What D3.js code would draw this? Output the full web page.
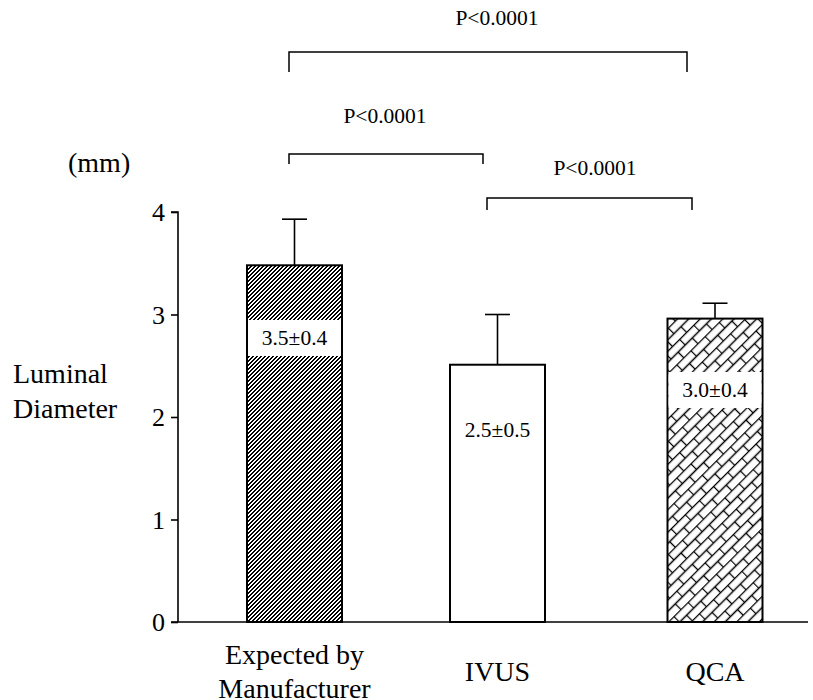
<!DOCTYPE html>
<html>
<head>
<meta charset="utf-8">
<script src="https://cdn.jsdelivr.net/npm/d3@7"></script>
<style>
  body { margin: 0; background: #fff; }
  svg { display: block; }
</style>
</head>
<body>
<svg id="chart" width="813" height="700"></svg>
<script>
// data
var categories = ["Expected by Manufacturer", "IVUS", "QCA"];
var means = [3.48, 2.51, 2.96];
var errTops = [3.93, 3.0, 3.11];
var valueLabels = ["3.5\u00b10.4", "2.5\u00b10.5", "3.0\u00b10.4"];
var yTicks = [0, 1, 2, 3, 4];
// comparisons: [from index, to index, label]
var comparisons = [
  [0, 2, "P<0.0001"],
  [0, 1, "P<0.0001"],
  [1, 2, "P<0.0001"]
];

var FONT = "'Times New Roman', 'Liberation Serif', 'DejaVu Serif', serif";
var svg = d3.select("#chart").style("font-family", FONT);

var y = d3.scaleLinear().domain([0, 4]).range([622, 212]);
var x = d3.scaleOrdinal().domain(categories).range([294.5, 497.5, 715]);
var barW = 95;

// patterns
var defs = svg.append("defs");
// dense "/" stripes, drawn pixel by pixel so they stay crisp
var stripe = defs.append("pattern")
  .attr("id", "stripe")
  .attr("patternUnits", "userSpaceOnUse")
  .attr("width", 4).attr("height", 4);
stripe.append("rect").attr("width", 4).attr("height", 4).attr("fill", "#fff");
for (var py = 0; py < 4; py++){
  for (var px = 0; px < 4; px++){
    if ((px + py) % 4 < 2) {
      stripe.append("rect").attr("x", px).attr("y", py)
        .attr("width", 1).attr("height", 1).attr("fill", "#000")
        .attr("shape-rendering", "crispEdges");
    }
  }
}

var brick = defs.append("pattern")
  .attr("id", "brick")
  .attr("patternUnits", "userSpaceOnUse")
  .attr("width", 20).attr("height", 16)
  .attr("patternTransform", "rotate(-45)");
brick.append("rect").attr("width", 20).attr("height", 16).attr("fill", "#fff");
brick.append("path")
  .attr("d", "M0,0.5H20M0,8.5H20M0.5,0.5V8.5M10.5,8.5V16.5")
  .attr("stroke", "#000").attr("stroke-width", 1.3).attr("fill", "none");

var fills = ["url(#stripe)", "#fff", "url(#brick)"];

// axes
var axisG = svg.append("g").attr("transform", "translate(178,0)");
axisG.call(d3.axisLeft(y).tickValues(yTicks).tickSize(7).tickPadding(6).tickFormat(d3.format("d")));
axisG.attr("font-family", null);
axisG.select(".domain").attr("d", "M-7," + y(4) + "H0V" + y(0)).attr("stroke", "#000").attr("stroke-width", 1.6);
axisG.selectAll(".tick line").attr("stroke", "#000").attr("stroke-width", 1.6);
axisG.selectAll(".tick text")
  .style("font-family", FONT)
  .attr("font-size", 26).attr("fill", "#000").attr("dy", "0.34em");
// baseline
svg.append("line")
  .attr("x1", 171).attr("x2", 808)
  .attr("y1", y(0)).attr("y2", y(0))
  .attr("stroke", "#000").attr("stroke-width", 1.6);

// error bars (behind bars)
var errG = svg.append("g");
categories.forEach(function(c, i){
  var cx = x(c);
  errG.append("line").attr("x1", cx).attr("x2", cx)
    .attr("y1", y(means[i])).attr("y2", y(errTops[i]))
    .attr("stroke", "#000").attr("stroke-width", 1.6);
  errG.append("line").attr("x1", cx - 12.5).attr("x2", cx + 12.5)
    .attr("y1", y(errTops[i])).attr("y2", y(errTops[i]))
    .attr("stroke", "#000").attr("stroke-width", 1.6);
});

// bars
svg.append("g").selectAll("rect")
  .data(categories)
  .enter()
  .append("rect")
  .attr("x", function(d){ return x(d) - barW / 2; })
  .attr("y", function(d, i){ return y(means[i]); })
  .attr("width", barW)
  .attr("height", function(d, i){ return y(0) - y(means[i]); })
  .attr("fill", function(d, i){ return fills[i]; })
  .attr("stroke", "#000").attr("stroke-width", 2);

// value labels with white boxes (box sits a little below the bar top)
var labelY = [338, 430, 390];
categories.forEach(function(c, i){
  if (i != 1) {
    svg.append("rect")
      .attr("x", x(c) - barW / 2 + 1).attr("y", labelY[i] - 18)
      .attr("width", barW - 2).attr("height", 36)
      .attr("fill", "#fff");
  }
  svg.append("text")
    .attr("x", x(c)).attr("y", labelY[i] + 7)
    .attr("text-anchor", "middle")
    .attr("font-size", 21.5)
    .text(valueLabels[i]);
});

// significance brackets
var bracketY = [52, 154, 198];
var bracketDrop = [20, 10, 12];
var bracketEnds = [[289, 687], [289, 483], [487, 692]];
var labelPos = [[497, 25], [385, 123], [595, 175]];
comparisons.forEach(function(cmp, i){
  var x1 = bracketEnds[i][0], x2 = bracketEnds[i][1];
  svg.append("path")
    .attr("d", "M" + x1 + "," + (bracketY[i] + bracketDrop[i]) + "V" + bracketY[i] +
      "H" + x2 + "V" + (bracketY[i] + bracketDrop[i]))
    .attr("fill", "none").attr("stroke", "#000").attr("stroke-width", 1.5);
  svg.append("text")
    .attr("x", labelPos[i][0]).attr("y", labelPos[i][1])
    .attr("text-anchor", "middle")
    .attr("font-size", 21.5)
    .text(cmp[2]);
});

// category labels
var catLines = [["Expected by", "Manufacturer"], ["IVUS"], ["QCA"]];
var catY = [664, 681, 681];
categories.forEach(function(c, i){
  var t = svg.append("text")
    .attr("x", x(c)).attr("text-anchor", "middle").attr("font-size", 28);
  catLines[i].forEach(function(line, j){
    t.append("tspan").attr("x", x(c)).attr("y", catY[i] + j * 34).text(line);
  });
});

// axis titles
svg.append("text").attr("x", 68).attr("y", 172).attr("font-size", 28).text("(mm)");
svg.append("text").attr("x", 13).attr("y", 383).attr("font-size", 28).text("Luminal");
svg.append("text").attr("x", 13).attr("y", 418).attr("font-size", 28).text("Diameter");
</script>
</body>
</html>
